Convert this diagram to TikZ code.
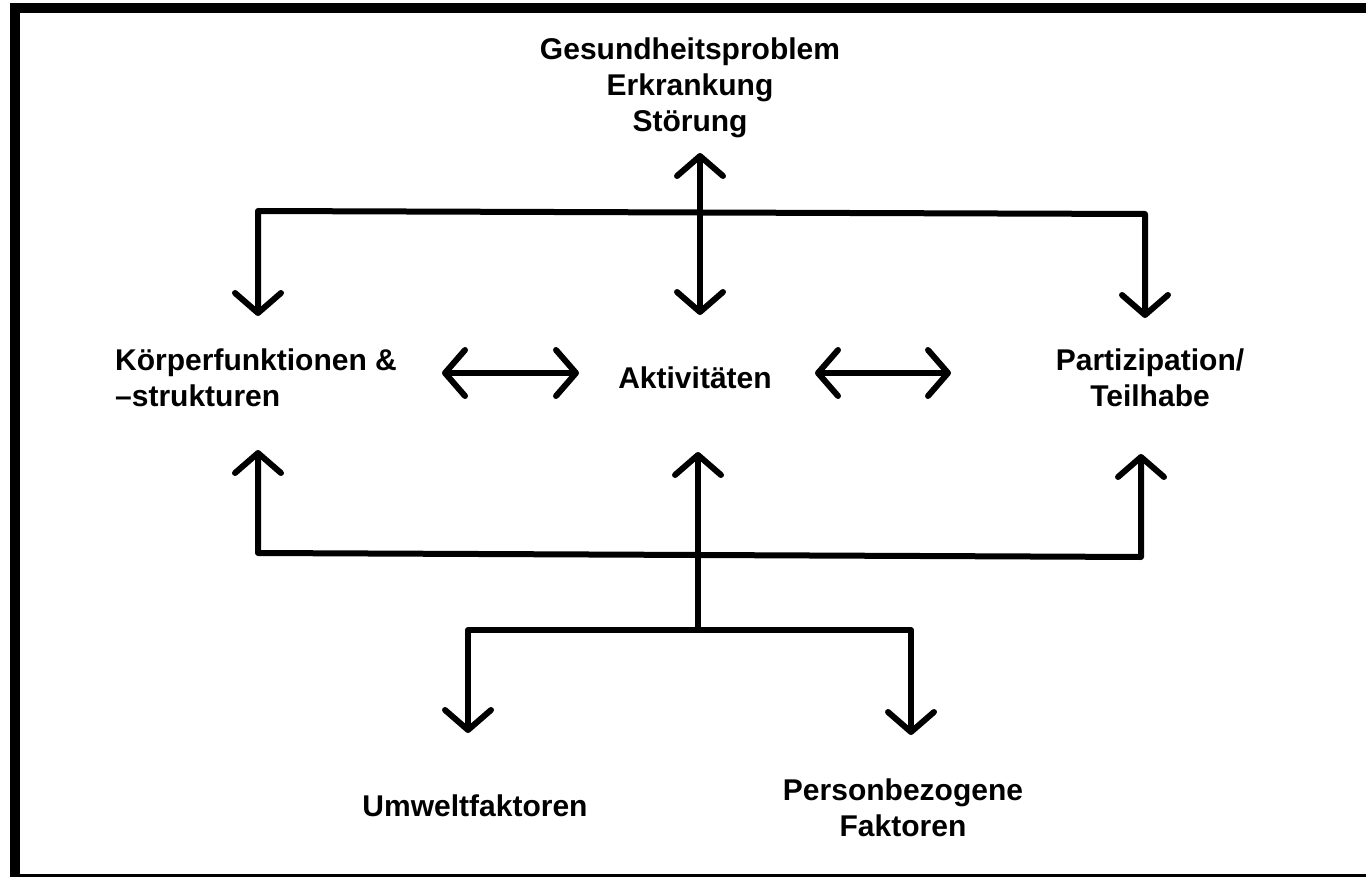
\documentclass[tikz,border=0pt]{standalone}
\usepackage{fontspec}
\setmainfont{Liberation Sans}
\usetikzlibrary{arrows.meta}
\begin{document}
\begin{tikzpicture}[x=1pt,y=-1pt,
  lbl/.style={font=\fontsize{30}{36}\selectfont\bfseries, inner sep=0pt, align=center},
  conn/.style={line width=6pt, line join=round, line cap=round,
    arrows={-Straight Barb[length=20pt,width=46pt,round]}},
  bothconn/.style={conn, arrows={Straight Barb[length=20pt,width=46pt,round]-Straight Barb[length=20pt,width=46pt,round]}},
  frame/.style={line width=10pt}]
\useasboundingbox (0,0) rectangle (1366,877);
\clip (0,0) rectangle (1366,877);
\fill[white] (0,0) rectangle (1366,877);
\draw[frame] (15,8.5) rectangle (1380,879);

% texts
\node[lbl] (gp) at (690,88) {Gesundheitsproblem\\Erkrankung\\Störung};
\node[lbl, align=left, anchor=west] (kf) at (115,378) {Körperfunktionen \&\\–strukturen};
\node[lbl] (akt) at (695,378) {Aktivitäten};
\node[lbl] (pt) at (1150,378) {Partizipation/\\Teilhabe};
\node[lbl] (uw) at (475,806) {Umweltfaktoren};
\node[lbl] (pb) at (903,808) {Personbezogene\\Faktoren};

% coordinates
\coordinate (t1) at (258,316);
\coordinate (t2) at (258,211);
\coordinate (t3) at (1145,214);
\coordinate (t4) at (1145,318);
\coordinate (c1) at (700,153);
\coordinate (c2) at (700,315);
\coordinate (h1) at (442,373);
\coordinate (h2) at (579,373);
\coordinate (h3) at (815,373);
\coordinate (h4) at (951,373);
\coordinate (b1) at (258,450);
\coordinate (b2) at (258,553);
\coordinate (b3) at (1141,557);
\coordinate (b4) at (1141,454);
\coordinate (m1) at (698,630);
\coordinate (m2) at (698,452);
\coordinate (l1) at (468,733);
\coordinate (l2) at (468,630);
\coordinate (l3) at (911,630);
\coordinate (l4) at (911,735);

% connectors
\draw[bothconn] (t1) -- (t2) -- (t3) -- (t4);
\draw[bothconn] (c1) -- (c2);
\draw[bothconn] (h1) -- (h2);
\draw[bothconn] (h3) -- (h4);
\draw[bothconn] (b1) -- (b2) -- (b3) -- (b4);
\draw[conn] (m1) -- (m2);
\draw[bothconn] (l1) -- (l2) -- (l3) -- (l4);
\end{tikzpicture}
\end{document}
